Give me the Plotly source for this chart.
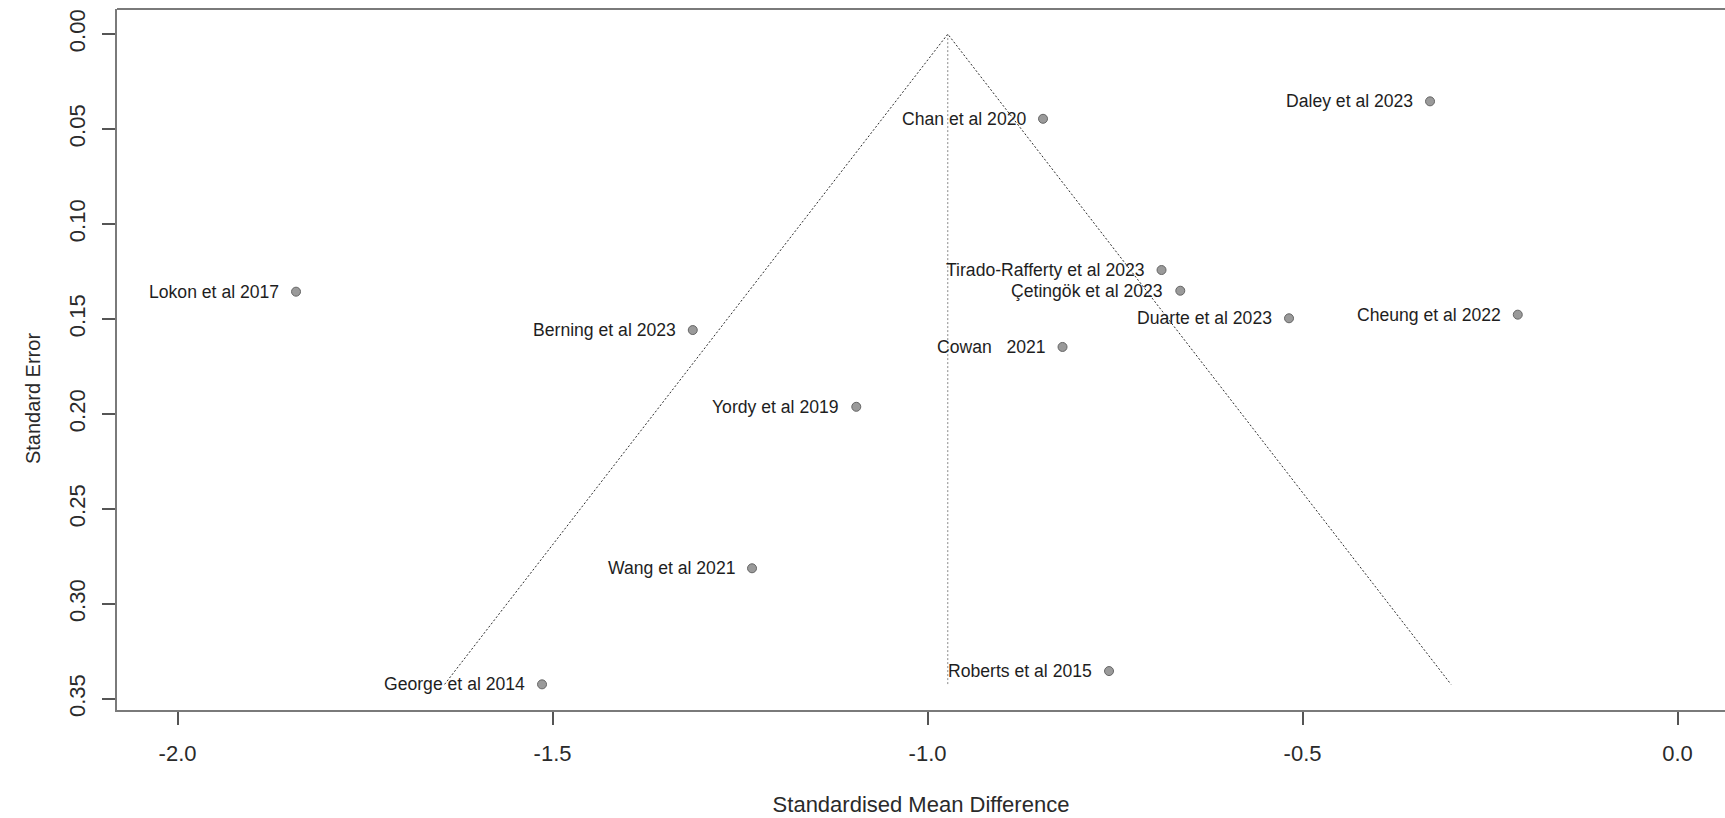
import plotly.graph_objects as go

# Study effect sizes (standardised mean difference) and their standard errors
studies = [
    "Chan et al 2020", "Daley et al 2023", "Lokon et al 2017",
    "Tirado-Rafferty et al 2023", "Çetingök et al 2023", "Duarte et al 2023",
    "Cheung et al 2022", "Berning et al 2023", "Cowan\u00a0\u00a0\u00a02021",
    "Yordy et al 2019", "Wang et al 2021", "Roberts et al 2015",
    "George et al 2014",
]
smd = [-0.846, -0.330, -1.842, -0.688, -0.663, -0.518, -0.213,
       -1.313, -0.820, -1.095, -1.234, -0.758, -1.514]
se = [0.0446, 0.0354, 0.1356, 0.1242, 0.1351, 0.1496, 0.1477,
      0.1558, 0.1647, 0.1962, 0.2812, 0.3353, 0.3423]

pooled = -0.973
z = 1.96

x_tickvals = [-2.0, -1.5, -1.0, -0.5, 0.0]
x_ticktext = ["-2.0", "-1.5", "-1.0", "-0.5", "0.0"]
y_tickvals = [0.00, 0.05, 0.10, 0.15, 0.20, 0.25, 0.30, 0.35]
y_ticktext = ["0.00", "0.05", "0.10", "0.15", "0.20", "0.25", "0.30", "0.35"]

FONT = "Liberation Sans, Arial, sans-serif"
se_max = max(se)

fig = go.Figure()

# pseudo 95% confidence funnel
fig.add_trace(go.Scatter(
    x=[pooled - z * se_max, pooled, pooled + z * se_max],
    y=[se_max, 0.0, se_max],
    mode="lines",
    line=dict(color="#2e2e2e", width=1, dash="2px,2px"),
    hoverinfo="skip", showlegend=False,
))
# pooled estimate
fig.add_trace(go.Scatter(
    x=[pooled, pooled], y=[0.0, se_max],
    mode="lines",
    line=dict(color="#8a8a8a", width=1, dash="2px,2px"),
    hoverinfo="skip", showlegend=False,
))
# studies
fig.add_trace(go.Scatter(
    x=smd, y=se, mode="markers",
    marker=dict(size=9, color="#9a9a9a", line=dict(color="#666666", width=1)),
    hovertext=studies, showlegend=False,
))

for name, xv, yv in zip(studies, smd, se):
    fig.add_annotation(
        x=xv, y=yv, text=name, showarrow=False,
        xanchor="right", yanchor="middle", xshift=-15,
        font=dict(family=FONT, size=17.6, color="#1e1e1e"),
    )

# y-axis title
fig.add_annotation(
    xref="paper", yref="paper", x=-0.0522, y=0.445,
    text="Standard Error", showarrow=False, textangle=-90,
    xanchor="center", yanchor="middle",
    font=dict(family=FONT, size=20, color="#2a2a2a"),
)

axis_line = "#7a7a7a"

fig.add_shape(type="line", xref="paper", yref="paper",
              x0=0, x1=1, y0=1, y1=1,
              line=dict(color=axis_line, width=2))

fig.update_xaxes(
    range=[-2.0807, 0.0633],
    tickvals=x_tickvals, ticktext=x_ticktext,
    showgrid=False, zeroline=False,
    showline=True, linecolor=axis_line, linewidth=2,
    ticks="outside", ticklen=13, tickwidth=1.5, tickcolor="#555555",
    ticklabelstandoff=10,
    tickfont=dict(family=FONT, size=22, color="#2a2a2a"),
    title=dict(text="Standardised Mean Difference", standoff=31,
               font=dict(family=FONT, size=22, color="#2a2a2a")),
)
fig.update_yaxes(
    range=[0.3558, -0.0132],
    tickvals=y_tickvals, ticktext=y_ticktext,
    showgrid=False, zeroline=False,
    showline=True, linecolor=axis_line, linewidth=2,
    ticks="outside", ticklen=13, tickwidth=1.5, tickcolor="#555555",
    tickangle=-90, ticklabelstandoff=8,
    tickfont=dict(family=FONT, size=22, color="#2a2a2a"),
)

fig.update_layout(
    width=1725, height=818,
    margin=dict(l=117, r=0, t=9, b=108, autoexpand=False),
    plot_bgcolor="white", paper_bgcolor="white",
    showlegend=False,
)

fig.write_html("out.html")
